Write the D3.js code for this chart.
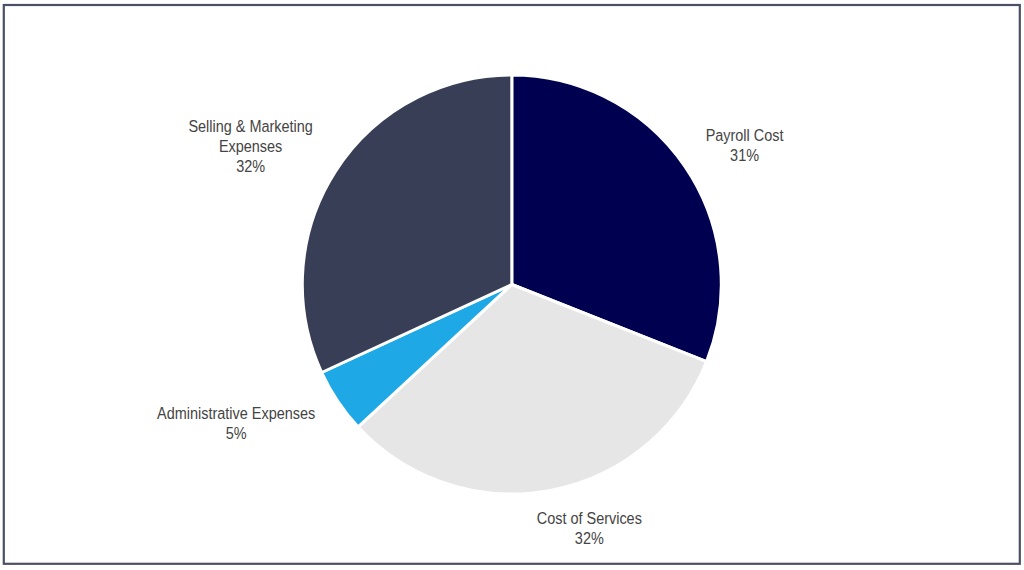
<!DOCTYPE html>
<html>
<head>
<meta charset="utf-8">
<script src="https://cdn.jsdelivr.net/npm/d3@7"></script>
<style>
  html, body { margin: 0; padding: 0; background: #ffffff; }
  svg { display: block; }
</style>
</head>
<body>
<svg id="chart" width="1024" height="570"></svg>
<script>
const categories = ["Payroll Cost", "Cost of Services", "Administrative Expenses", "Selling & Marketing Expenses"];
const labelLines = [["Payroll Cost"], ["Cost of Services"], ["Administrative Expenses"], ["Selling & Marketing", "Expenses"]];
const values = [31.0, 32.1, 5.0, 31.9];
const colors = ["#000050", "#e6e6e6", "#1ea8e6", "#383e56"];

const svg = d3.select("#chart");

// frame
svg.append("rect")
  .attr("x", 3.8).attr("y", 5)
  .attr("width", 1016).attr("height", 558.8)
  .attr("fill", "none")
  .attr("stroke", "#4b5066")
  .attr("stroke-width", 2.2);

const cx = 511.8, cy = 284.5, r = 209.5;
const g = svg.append("g").attr("transform", `translate(${cx},${cy})`);

const total = d3.sum(values);
const data = categories.map((c, i) => ({ name: c, value: values[i], lines: labelLines[i], color: colors[i] }));

const pie = d3.pie().value(d => d.value).sort(null);
const arcs = pie(data);
const arc = d3.arc().innerRadius(0).outerRadius(r);

g.selectAll("path.slice")
  .data(arcs)
  .enter().append("path")
  .attr("class", "slice")
  .attr("d", arc)
  .attr("fill", d => d.data.color)
  .attr("stroke", "#ffffff")
  .attr("stroke-width", 3)
  .attr("stroke-linejoin", "round");

const fontSize = 17;
const lineH = 20;
const sx = 0.85; // condensed look
const fontFamily = "'Liberation Sans', Arial, sans-serif";
const R = 232;

arcs.forEach(a => {
  const mid = (a.startAngle + a.endAngle) / 2;
  const s = Math.sin(mid), c = Math.cos(mid);
  const lines = a.data.lines.concat([Math.round(a.data.value / total * 100) + "%"]);
  const outer = g.append("g");
  const t = outer.append("text")
    .attr("text-anchor", "middle")
    .attr("font-family", fontFamily)
    .attr("font-size", fontSize)
    .attr("fill", "#444444");
  lines.forEach((ln, i) => {
    t.append("tspan").attr("x", 0).attr("y", i * lineH).text(ln);
  });
  const bb = t.node().getBBox();
  const w = bb.width * sx, h = (lines.length - 1) * lineH + fontSize * 0.72;
  const px = R * s + Math.sign(s) * (w / 2) * (0.55 + 0.6 * Math.abs(s));
  const py = -R * c - c * h / 2;
  const topOffset = -fontSize * 0.72;
  const blockCenter = (topOffset + (lines.length - 1) * lineH) / 2;
  outer.attr("transform", `translate(${px},${py - blockCenter}) scale(${sx},1)`);
});
</script>
</body>
</html>
